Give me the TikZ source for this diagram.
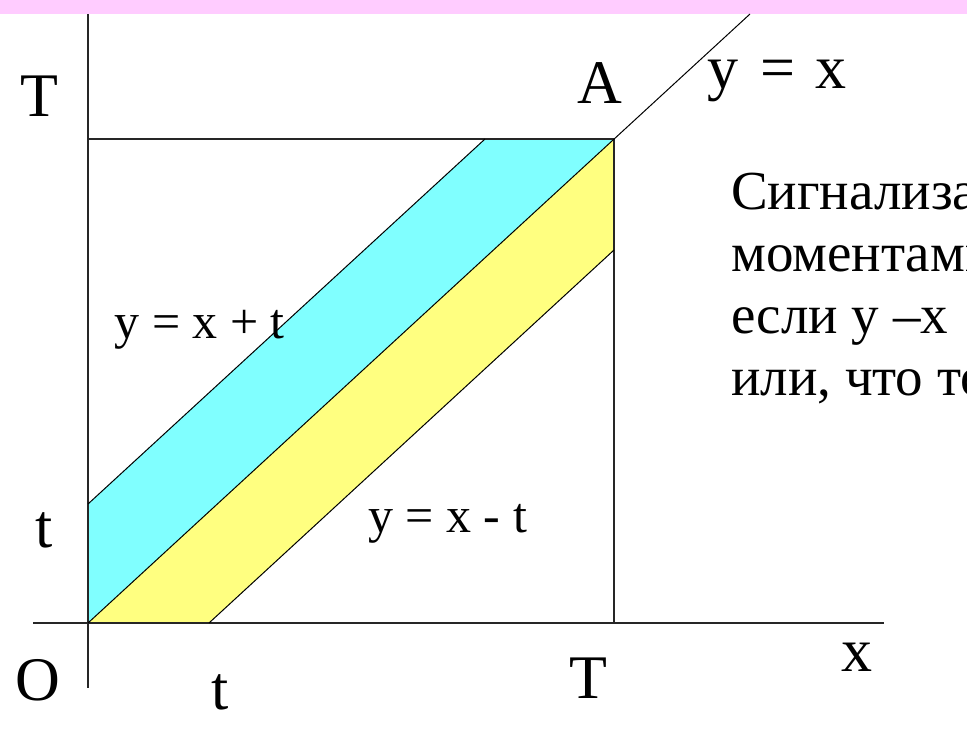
\documentclass[tikz,border=0pt]{standalone}
\usepackage{fontspec}
\setmainfont{Liberation Serif}
\definecolor{bandpink}{HTML}{FFCCFF}
\definecolor{bandcyan}{HTML}{80FFFF}
\definecolor{bandyellow}{HTML}{FFFF80}
\begin{document}
\begin{tikzpicture}[x=1pt,y=-1pt,
  axisline/.style={draw=black!85, line width=2.2pt},
  boxline/.style={draw=black!85, line width=2pt},
  diagline/.style={draw=black, line width=1pt},
  biglabel/.style={inner sep=0pt, anchor=base, font=\fontsize{62}{70}\selectfont},
  eqlabel/.style={inner sep=0pt, anchor=base, font=\fontsize{50}{56}\selectfont},
  ruslabel/.style={inner sep=0pt, anchor=base west, font=\fontsize{55}{62}\selectfont}]
\useasboundingbox (0,0) rectangle (967,729);
\fill[white] (0,0) rectangle (967,729);
\clip (0,0) rectangle (967,729);
\fill[bandpink] (0,0) rectangle (967,14);
% key points
\coordinate (O) at (88,623);
\coordinate (A) at (614,139);
\coordinate (TL) at (88,139);
\coordinate (TR) at (614,623);
\coordinate (P1) at (88,504);
\coordinate (P2) at (485,139);
\coordinate (Q1) at (209,623);
\coordinate (Q2) at (614,250);
\coordinate (E) at (750,14);
\coordinate (yTop) at (88,14);
\coordinate (yBot) at (88,688);
\coordinate (xLeft) at (33,623);
\coordinate (xRight) at (884,623);
% bands
\fill[bandcyan] (O) -- (P1) -- (P2) -- (A) -- cycle;
\fill[bandyellow] (O) -- (A) -- (Q2) -- (Q1) -- cycle;
% axes and square
\draw[axisline] (yTop) -- (yBot);
\draw[axisline] (xLeft) -- (xRight);
\draw[boxline] (TL) -- (A) -- (TR);
% diagonal lines
\draw[diagline] (O) -- (E);
\draw[diagline] (P1) -- (P2);
\draw[diagline] (Q1) -- (Q2);
% labels
\node[biglabel] (lT) at (39,116) {T};
\node[biglabel] (lA) at (600,103) {A};
\node[biglabel, anchor=base west] (lyx) at (707,88) {y\hspace{22pt}=\hspace{20pt}x};
\node[biglabel] (lt) at (44,547) {t};
\node[biglabel] (lO) at (38,700) {O};
\node[biglabel] (lt2) at (220,709) {t};
\node[biglabel] (lT2) at (588,698) {T};
\node[biglabel] (lx) at (857,671) {x};
\node[eqlabel, anchor=base east] (lplus) at (285,338) {y = x + t};
\node[eqlabel, anchor=base west] (lminus) at (368,532) {y = x - t};
% Russian text (cut at the right edge)
\node[ruslabel] (r1) at (731,209) {Сигнализа};
\node[ruslabel] (r2) at (731,271) {моментами};
\node[ruslabel] (r3) at (731,333) {если y –x};
\node[ruslabel] (r4) at (731,395) {или, что то};
\end{tikzpicture}
\end{document}
